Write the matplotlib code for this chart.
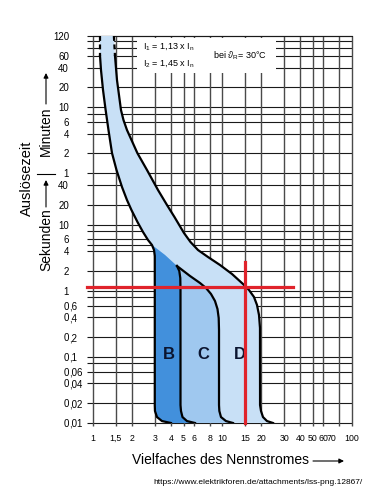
import numpy as np
import matplotlib.pyplot as plt
from matplotlib.patches import Rectangle

plt.rcParams['font.family'] = ['Liberation Sans', 'DejaVu Sans']
plt.rcParams['mathtext.fontset'] = 'custom'
plt.rcParams['mathtext.rm'] = 'Liberation Sans'
plt.rcParams['mathtext.it'] = 'Liberation Sans:italic'

# ---- data (x = multiple of rated current, t = seconds) ----
# thermal band, lower limit (continues as left edge of the B zone)
lower_x = [1.133, 1.133, 1.153, 1.195, 1.249, 1.317, 1.402, 1.519, 1.675, 1.830, 1.983, 2.207,
           2.433, 2.659, 2.855, 2.96, 3.0, 3.0, 3.01, 3.12, 3.41, 4.0]
lower_t = [7200, 3600, 2200, 1100, 565, 272, 122, 67.5, 37.3, 23.7, 16.7, 11.0,
           7.78, 5.89, 4.94, 4.15, 3.37, 0.0187, 0.0152, 0.0123, 0.0107, 0.01]

# thermal band, upper limit (continues as right edge of the D zone)
upper_x = [1.45, 1.479, 1.532, 1.645, 1.72, 1.83, 1.983, 2.20, 2.612, 3.177, 3.729, 4.259,
           5.043, 5.66, 6.47, 7.727, 9.566, 11.84, 14.40, 16.02, 17.51, 18.47, 19.14, 19.48,
           19.5, 19.83, 20.55, 22.06, 24.55]
upper_t = [7200, 3600, 1554, 546, 385, 272, 192, 122, 67.5, 33.6, 19.9, 13.1,
           7.51, 5.49, 4.15, 3.254, 2.463, 1.800, 1.270, 1.030, 0.807, 0.611, 0.431, 0.274,
           0.0187, 0.0152, 0.0123, 0.0107, 0.01]

# right edge of C zone
c_x = [2.855, 3.597, 4.453, 5.612, 6.705, 7.459, 8.151, 8.752, 9.15, 9.348, 9.4, 9.4,
       9.456, 9.736, 10.64, 12.05]
c_t = [4.94, 3.49, 2.378, 1.679, 1.315, 1.105, 0.897, 0.702, 0.531, 0.388, 0.256, 0.0187,
       0.0152, 0.0123, 0.0107, 0.01]

# right edge of B zone
b_x = [2.855, 3.597, 4.453, 4.639, 4.722, 4.74, 4.74, 4.781, 4.911, 5.318, 6.133]
b_t = [4.94, 3.49, 2.378, 2.0, 1.565, 1.03, 0.0187, 0.0152, 0.0123, 0.0107, 0.01]

zone_names = ['B', 'C', 'D']
zone_label_x = [3.86, 7.07, 13.6]
zone_label_t = [0.11, 0.11, 0.11]

# red reading cross
mark_x = 15
mark_t = 1.16

# grid and ticks
vgrid = [1, 1.5, 2, 3, 4, 5, 6, 8, 10, 15, 20, 30, 40, 50, 60, 80, 100]
hgrid_min = [120, 100, 80, 60, 40, 20, 10, 8, 6, 4, 2, 1]
hgrid_sec = [40, 20, 10, 8, 6, 5, 4, 2, 1, 0.8, 0.6, 0.4, 0.2, 0.1, 0.08, 0.06, 0.04, 0.02, 0.01]
ytick_vals = [7200, 3600, 2400, 1200, 600, 360, 240, 120, 60, 40, 20, 10, 6, 4, 2, 1,
              0.6, 0.4, 0.2, 0.1, 0.06, 0.04, 0.02, 0.01]
ytick_labels = ['120', '60', '40', '20', '10', '6', '4', '2', '1', '40', '20', '10', '6', '4', '2', '1',
                '0,6', '0,4', '0,2', '0,1', '0,06', '0,04', '0,02', '0,01']
xtick_vals = [1, 1.5, 2, 3, 4, 5, 6, 8, 10, 15, 20, 30, 40, 50, 60, 70, 100]
xtick_labels = ['1', '1,5', '2', '3', '4', '5', '6', '8', '10', '15', '20', '30', '40', '50', '60', '70', '100']

col_light = '#c8e0f6'
col_mid = '#9fc8ef'
col_dark = '#4290dc'
col_red = '#e0232b'

fig = plt.figure(figsize=(3.86, 5.0), dpi=100)
ax = fig.add_axes([0.2409, 0.154, 0.671, 0.774])
ax.set_xscale('log')
ax.set_yscale('log')
ax.set_xlim(1, 100)
ax.set_ylim(0.01, 7200)
for s in ax.spines.values():
    s.set_visible(False)
ax.tick_params(which='both', length=0, labelleft=False, labelbottom=False)

# grid
hgrid = [m * 60 for m in hgrid_min] + hgrid_sec
ax.hlines(hgrid, -0.023, 1, transform=ax.get_yaxis_transform(), color='#1a1a1a',
          lw=0.8, clip_on=False, zorder=1)
ax.vlines(vgrid, -0.009, 1, transform=ax.get_xaxis_transform(), color='#4a4a4a',
          lw=1.0, clip_on=False, zorder=1)

# white box behind the legend text
ax.add_patch(Rectangle((0.170, 0.9044), 0.5366, 0.09, transform=ax.transAxes,
                       fc='white', ec='none', zorder=1.5))
ax.axhline(7200, color='#1a1a1a', lw=0.8, clip_on=False, zorder=1.6)

# zones
i0 = lower_t.index(4.94)
ax.fill(lower_x + upper_x[::-1], lower_t + upper_t[::-1], color=col_light, lw=0, zorder=2)
ax.fill(lower_x[i0:] + c_x[::-1], lower_t[i0:] + c_t[::-1], color=col_mid, lw=0, zorder=2.1)
ax.fill(lower_x[i0:] + b_x[::-1], lower_t[i0:] + b_t[::-1], color=col_dark, lw=0, zorder=2.2)

# outlines
lw = 1.6
for xs, ts in [(lower_x, lower_t), (upper_x, upper_t)]:
    ax.plot(xs[:2], ts[:2], color='black', lw=lw, ls=(0, (2.2, 1.6)), zorder=3)
    ax.plot(xs[1:], ts[1:], color='black', lw=lw, solid_joinstyle='round', zorder=3)
j = c_t.index(2.378)
ax.plot(c_x[j:], c_t[j:], color='black', lw=lw, solid_joinstyle='round', zorder=3)
j = b_t.index(2.378)
ax.plot(b_x[j:], b_t[j:], color='black', lw=lw, solid_joinstyle='round', zorder=3)

for name, zx, zt in zip(zone_names, zone_label_x, zone_label_t):
    ax.text(zx, zt, name, fontsize=12, fontweight='bold', color='#0b1530',
            ha='center', va='center', zorder=4)

# red cross
ax.plot([0.9, 35], [mark_t, mark_t], color=col_red, lw=2.3, clip_on=False, zorder=5)
ax.plot([mark_x, mark_x], [0.01, 2.7], color=col_red, lw=2.3, clip_on=False, zorder=5)

# y tick labels, aligned at the decimal comma
ytr = ax.get_yaxis_transform()
for v, lab in zip(ytick_vals, ytick_labels):
    whole, _, frac = lab.partition(',')
    ax.text(-0.0927, v, whole, transform=ytr, ha='right', va='center_baseline', fontsize=7,
            clip_on=False)
    if frac:
        ax.text(-0.0927, v, ',' + frac, transform=ytr, ha='left', va='center_baseline',
                fontsize=7, clip_on=False)

xtr = ax.get_xaxis_transform()
for v, lab in zip(xtick_vals, xtick_labels):
    ax.text(v, -0.039, lab, transform=xtr, ha='center', va='center', fontsize=6.3, clip_on=False)

# legend text in the box
ax.text(0.193, 0.9716, r'$\mathrm{I}_1$ = 1,13 x $\mathrm{I}_\mathrm{n}$', transform=ax.transAxes,
        fontsize=6.5, va='center', ha='left', zorder=6)
ax.text(0.193, 0.930, r'$\mathrm{I}_2$ = 1,45 x $\mathrm{I}_\mathrm{n}$', transform=ax.transAxes,
        fontsize=6.5, va='center', ha='left', zorder=6)
ax.text(0.463, 0.948, r'bei $\vartheta_\mathrm{R}$= 30°C', transform=ax.transAxes,
        fontsize=6.5, va='center', ha='left', zorder=6)

# axis titles
W, H = 386.0, 500.0
fig.text(27 / W, 1 - 178 / H, 'Auslösezeit', rotation=90, fontsize=10.5, ha='center', va='center')
fig.text(46 / W, 1 - 131 / H, 'Minuten', rotation=90, fontsize=10, ha='center', va='center')
fig.text(46 / W, 1 - 240 / H, 'Sekunden', rotation=90, fontsize=10, ha='center', va='center')
arrow = dict(arrowstyle='-|>', lw=0.8, color='black', mutation_scale=7, shrinkA=0, shrinkB=0)
fig.add_artist(plt.Line2D([37 / W, 55 / W], [1 - 174 / H, 1 - 174 / H], color='black', lw=0.8))
ax.annotate('', xy=(46 / W, 1 - 73 / H), xytext=(46 / W, 1 - 104 / H),
            xycoords='figure fraction', textcoords='figure fraction', arrowprops=arrow)
ax.annotate('', xy=(46 / W, 1 - 180 / H), xytext=(46 / W, 1 - 207 / H),
            xycoords='figure fraction', textcoords='figure fraction', arrowprops=arrow)

fig.text(220 / W, 1 - 460 / H, 'Vielfaches des Nennstromes', fontsize=10, ha='center', va='center')
ax.annotate('', xy=(344 / W, 1 - 461 / H), xytext=(313 / W, 1 - 461 / H),
            xycoords='figure fraction', textcoords='figure fraction', arrowprops=arrow)
fig.text(258 / W, 1 - 483 / H, 'https://www.elektrikforen.de/attachments/lss-png.12867/',
         fontsize=6, ha='center', va='center')

fig.savefig('out.png', dpi=100)
